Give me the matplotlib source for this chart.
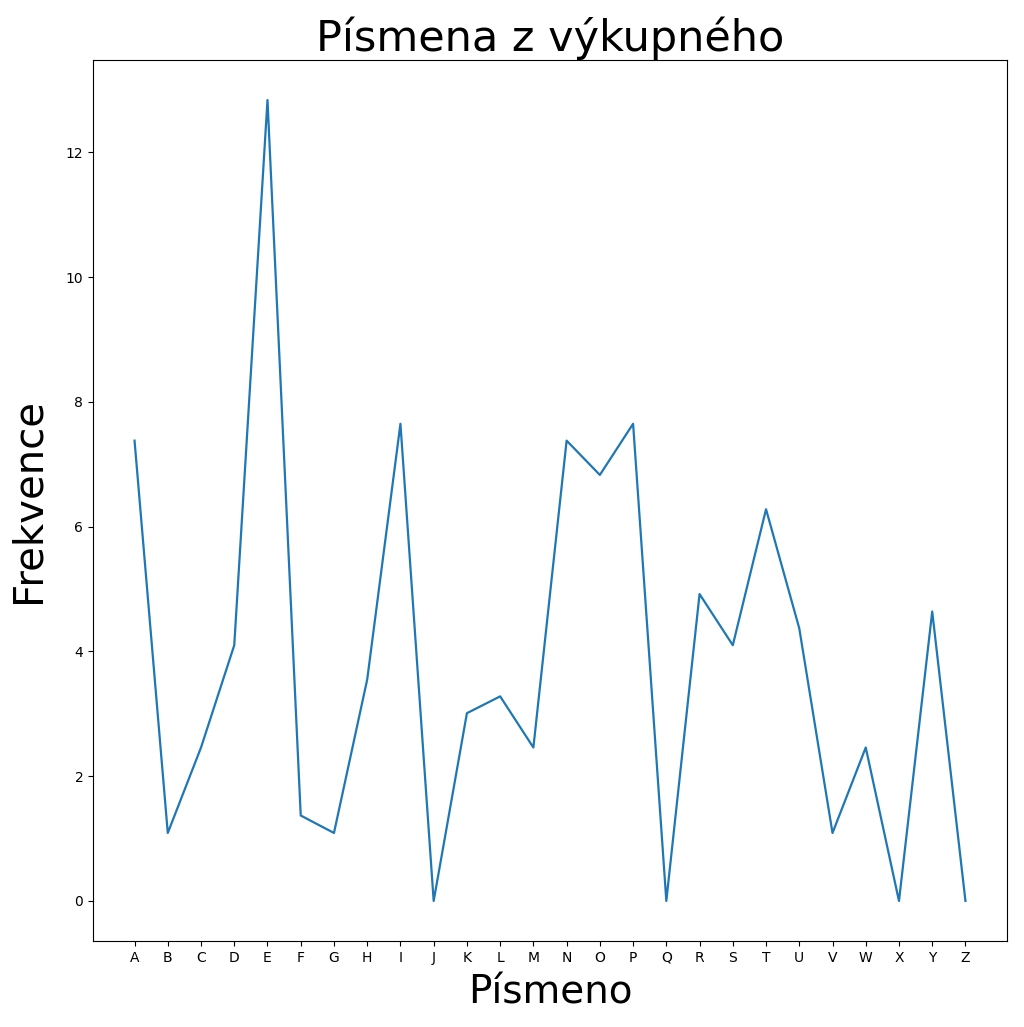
import matplotlib
matplotlib.use("Agg")
import matplotlib.pyplot as plt

letters = ["A", "B", "C", "D", "E", "F", "G", "H", "I", "J", "K", "L", "M",
           "N", "O", "P", "Q", "R", "S", "T", "U", "V", "W", "X", "Y", "Z"]
frequency = [7.38, 1.09, 2.46, 4.10, 12.84, 1.37, 1.09, 3.55, 7.65, 0.0,
             3.01, 3.28, 2.46, 7.38, 6.83, 7.65, 0.0, 4.92, 4.10, 6.28,
             4.37, 1.09, 2.46, 0.0, 4.64, 0.0]

fig = plt.figure(figsize=(10.24, 10.27), dpi=100)
ax = fig.add_axes([93 / 1024, 1 - 941 / 1027, (1007 - 93) / 1024, (941 - 60) / 1027])
ax.plot(letters, frequency, color="#1f77b4", linewidth=1.6)
ax.set_title("Písmena z výkupného", fontsize=31, pad=6)
ax.set_xlabel("Písmeno", fontsize=28, labelpad=6)
ax.set_ylabel("Frekvence", fontsize=29, labelpad=12)
fig.savefig("out.png", dpi=100)
